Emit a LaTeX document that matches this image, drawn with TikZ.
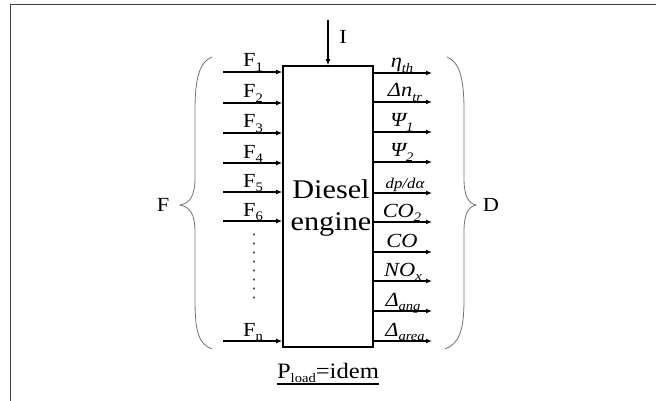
\documentclass[tikz,border=0pt]{standalone}
\usepackage{fontspec}
\setmainfont{Liberation Serif}[FakeStretch=1.12]
\usetikzlibrary{arrows.meta}
\newcommand\sbs[1]{\raisebox{-0.45ex}{\fontsize{13}{13}\selectfont #1}}
\begin{document}
\begin{tikzpicture}[x=1pt,y=-1pt,
  arr/.style={line width=1.5pt,-{Latex[length=6pt,width=5pt]}},
  lbl/.style={anchor=base,inner sep=0pt,font=\fontsize{20}{20}\selectfont},
  rlbl/.style={anchor=base,inner sep=0pt,font=\fontsize{20}{20}\selectfont\itshape},
  bracestyle/.style={draw=black!55,line width=0.8pt},
  box/.style={draw,line width=1.6pt,minimum width=90pt,minimum height=281pt,inner sep=0pt}]
\useasboundingbox (0,0) rectangle (656,401);
% frame
\draw[black!75,line width=1pt] (656,4.5) -- (10.5,4.5) -- (10.5,401);
% engine box
\node[box] (eng) at (328,206.5) {};
\node[anchor=base,inner sep=0pt,font=\fontsize{27}{27}\selectfont] (t1) at (331,198) {Diesel};
\node[anchor=base,inner sep=0pt,font=\fontsize{27}{27}\selectfont] (t2) at (331,230) {engine};
% input I
\coordinate (ci) at (328,20);
\draw[arr] (ci) -- (eng.north);
\node[lbl] (li) at (343,44) {I};
% left inputs
\foreach \y/\s [count=\i] in {72/1,103/2,133/3,163/4,192/5,221/6,341/n}{
  \coordinate (f\i) at (223,\y);
  \draw[arr] (f\i) -- (f\i -| eng.west);
  \node[lbl] (lf\i) at (253,\y-5) {F\sbs{\s}};
}
\coordinate (d1) at (254,234);
\coordinate (d2) at (254,298);
\draw[black!70,line width=1.3pt,dash pattern=on 1pt off 8pt,line cap=round] (d1) -- (d2);
% right outputs
\foreach \y [count=\i] in {73,102,132,162,193,222,252,281,311,341}{
  \coordinate (o\i) at (432,\y);
  \draw[arr] (o\i -| eng.east) -- (o\i);
}
\node[rlbl] (r1) at (402,68) {η\sbs{\itshape th}};
\node[rlbl] (r2) at (405,97) {Δn\sbs{\itshape tr}};
\node[rlbl] (r3) at (402,127) {Ψ\sbs{\itshape 1}};
\node[rlbl] (r4) at (402,157) {Ψ\sbs{\itshape 2}};
\node[rlbl,font=\fontsize{15}{15}\selectfont\itshape] (r5) at (405,188) {dp/dα};
\node[rlbl] (r6) at (402,217) {CO\sbs{\itshape 2}};
\node[rlbl] (r7) at (402,247) {CO};
\node[rlbl] (r8) at (403,276) {NO\sbs{\itshape x}};
\node[rlbl] (r9) at (403,306) {Δ\sbs{\itshape ang}};
\node[rlbl] (r10) at (405,336) {Δ\sbs{\itshape area}};
% braces
\coordinate (lbt) at (212,57);
\coordinate (lbm) at (180,205);
\coordinate (lbb) at (212,349);
\draw[bracestyle] (lbt) .. controls (199,62) and (195,80) .. (195,110) -- (195,178)
  .. controls (195,196) and (190,203) .. (lbm)
  .. controls (190,207) and (195,214) .. (195,232) -- (195,300)
  .. controls (195,333) and (199,344) .. (lbb);
\node[lbl] (lF) at (163,211) {F};
\coordinate (rbt) at (447,57);
\coordinate (rbm) at (476,205);
\coordinate (rbb) at (445,349);
\draw[bracestyle] (rbt) .. controls (460,62) and (464,80) .. (464,110) -- (464,178)
  .. controls (464,196) and (468,203) .. (rbm)
  .. controls (468,207) and (464,214) .. (464,232) -- (464,300)
  .. controls (464,333) and (458,344) .. (rbb);
\node[lbl] (lD) at (491,211) {D};
% load
\node[lbl,font=\fontsize{22}{22}\selectfont] (pl) at (328,378) {P\sbs{load}=idem};
\draw[line width=1.4pt] ([yshift=-6pt]pl.base west) -- ([yshift=-6pt]pl.base east);
\end{tikzpicture}
\end{document}
